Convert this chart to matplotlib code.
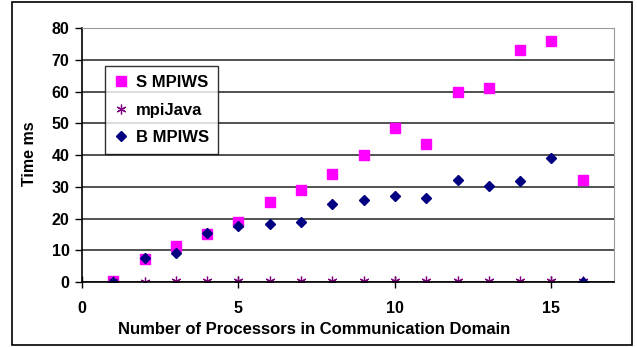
import numpy as np
import matplotlib
matplotlib.use("Agg")
import matplotlib.pyplot as plt

plt.rcParams['font.family'] = ['Liberation Sans', 'DejaVu Sans']
plt.rcParams['font.weight'] = 'bold'

procs = [1, 2, 3, 4, 5, 6, 7, 8, 9, 10, 11, 12, 13, 14, 15, 16]
s_mpiws = [0.2, 7.2, 11.3, 15.0, 18.8, 25.3, 29.0, 34.0, 40.0, 48.6, 43.6, 60.0, 61.2, 73.2, 76.0, 32.0]
mpijava = [0.2, 0.1, 0.4, 0.3, 0.2, 0.3, 0.3, 0.3, 0.4, 0.2, 0.4, 0.4, 0.4, 0.3, 0.2, 0.2]
b_mpiws = [0.1, 7.5, 9.0, 15.5, 17.5, 18.3, 19.0, 24.5, 25.7, 27.0, 26.6, 32.0, 30.3, 31.7, 38.9, 0.1]

fig = plt.figure(figsize=(6.37, 3.47), dpi=100)
ax = fig.add_axes([82/637, 1 - 282/347, (614-82)/637, (282-28)/347])

ax.plot(procs, s_mpiws, linestyle='none', marker='s', markersize=6.5, color='#FF00FF', label='S MPIWS')
ax.plot(procs, mpijava, linestyle='none', marker=(6, 2, 0), markersize=7, color='#800080',
        markeredgewidth=0.9, label='mpiJava')
ax.plot(procs, b_mpiws, linestyle='none', marker='D', markersize=5, color='#000080', label='B MPIWS')

ax.set_xlim(0, 17)
ax.set_ylim(0, 80)
ax.set_xticks([0, 5, 10, 15])
ax.set_yticks(range(0, 81, 10))
ax.yaxis.grid(True, color='#333333', linewidth=1.2)
ax.set_axisbelow(True)
ax.tick_params(axis='y', direction='out', length=5, labelsize=11.5, width=1, pad=4)
ax.tick_params(axis='x', direction='inout', length=8, labelsize=11.5, width=1, pad=10)
for lbl in ax.get_xticklabels() + ax.get_yticklabels():
    lbl.set_fontweight('bold')
ax.spines['top'].set_color('#999999')
ax.spines['right'].set_color('#999999')
ax.spines['left'].set_linewidth(1.2)
ax.spines['bottom'].set_linewidth(1.2)

ax.set_ylabel('Time ms', fontsize=11.5, fontweight='bold')
ax.set_xlabel('Number of Processors in Communication Domain', fontsize=12, fontweight='bold')
ax.yaxis.set_label_coords(-52/532, (282 - 154)/254)
ax.xaxis.set_label_coords((314 - 82)/532, -(330 - 282)/254)
ax.xaxis.label.set_va('center')
ax.yaxis.label.set_va('center')

leg = ax.legend(loc='upper left', bbox_to_anchor=(23/532, 1 - 38/254), fontsize=12,
                frameon=True, fancybox=False, edgecolor='black', borderaxespad=0,
                handlelength=0.8, handletextpad=0.5, labelspacing=0.75, borderpad=0.55)
leg.get_frame().set_linewidth(1)
for t in leg.get_texts():
    t.set_fontweight('bold')

# outer chart border
fig.patches.append(plt.Rectangle((12/637, 2/347), 620/637, 343/347, transform=fig.transFigure,
                                 fill=False, edgecolor='black', linewidth=1.2))

fig.savefig('out.png', dpi=100)
